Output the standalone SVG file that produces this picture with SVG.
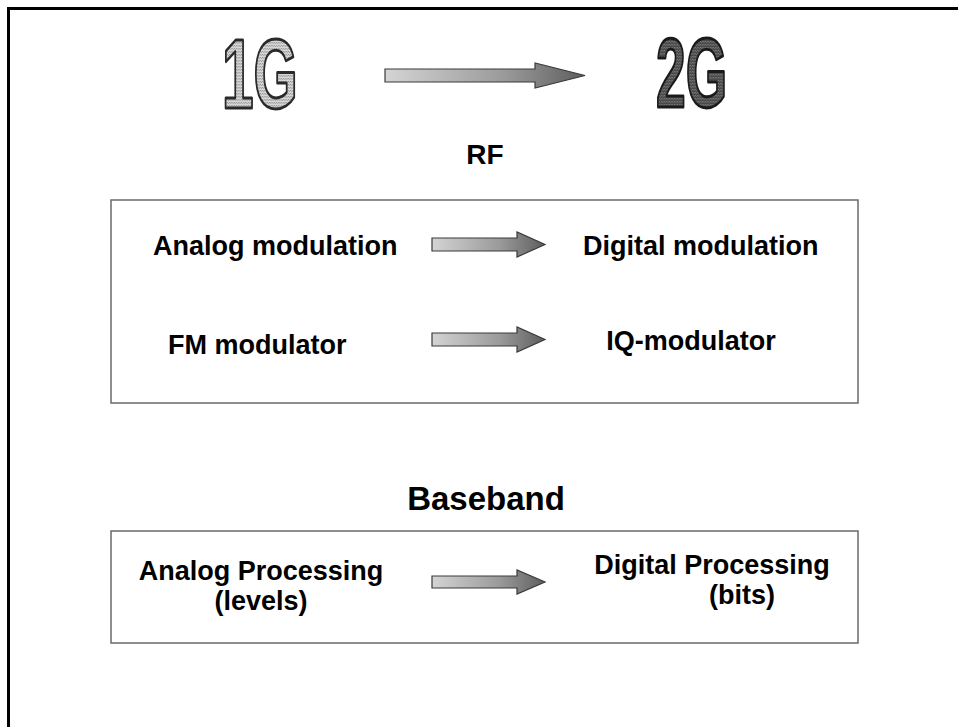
<svg xmlns="http://www.w3.org/2000/svg" width="958" height="727" viewBox="0 0 958 727">
  <defs>
    <linearGradient id="shade" x1="0" y1="0" x2="1" y2="0">
      <stop offset="0" stop-color="#d4d4d4"/>
      <stop offset="0.6" stop-color="#9a9a9a"/>
      <stop offset="1" stop-color="#5e5e5e"/>
    </linearGradient>
    <pattern id="dots" width="3" height="3" patternUnits="userSpaceOnUse">
      <rect width="3" height="3" fill="#d6d6d6"/>
      <rect width="1" height="1" fill="#6e6e6e"/>
      <rect x="2" y="1" width="1" height="1" fill="#8a8a8a"/>
    </pattern>
    <pattern id="darkdots" width="3" height="3" patternUnits="userSpaceOnUse">
      <rect width="3" height="3" fill="#4a4a4a"/>
      <rect width="1" height="1" fill="#9a9a9a"/>
      <rect x="2" y="1" width="1" height="1" fill="#777"/>
    </pattern>
  </defs>
  <style>
    .lbl { font-family: "Liberation Sans", Arial, sans-serif; font-weight: bold; fill: #000; font-size: 27px; }
    .head { font-family: "Liberation Sans", Arial, sans-serif; font-weight: bold; fill: #000; text-anchor: middle; }
    .gen { font-family: "Liberation Sans", Arial, sans-serif; font-weight: bold; font-size: 98px; stroke-linejoin: round; }
    .box { fill: #fff; stroke: #6a6a6a; stroke-width: 1.5; }
    .arrow { fill: url(#shade); stroke: #3a3a3a; stroke-width: 1.2; stroke-linejoin: miter; }
  </style>

  <rect width="958" height="727" fill="#fff"/>

  <!-- page frame (open at right and bottom) -->
  <path d="M8.5,727 V8.5 H958" fill="none" stroke="#000" stroke-width="3"/>

  <!-- generation titles -->
  <g id="gen1">
    <text class="gen" transform="translate(222,108) scale(0.58,1)" fill="url(#dots)" stroke="#2a2a2a" stroke-width="3">1G</text>
  </g>
  <g id="gen2">
    <text class="gen" transform="translate(656,107) scale(0.545,1)" fill="url(#darkdots)" stroke="#1a1a1a" stroke-width="3">2G</text>
  </g>

  <!-- section headings -->
  <g id="rf-title">
    <text class="head" x="485" y="164" font-size="28">RF</text>
  </g>
  <g id="baseband-title">
    <text class="head" x="486" y="510" font-size="33">Baseband</text>
  </g>

  <!-- RF box -->
  <g id="rf-box">
    <rect class="box" x="111" y="200" width="747" height="203"/>
  </g>
  <g id="analog-mod">
    <text class="lbl" x="153" y="255">Analog modulation</text>
  </g>
  <g id="digital-mod">
    <text class="lbl" x="583" y="255">Digital modulation</text>
  </g>
  <g id="fm-mod">
    <text class="lbl" x="168" y="354">FM modulator</text>
  </g>
  <g id="iq-mod">
    <text class="lbl" x="691" y="350" text-anchor="middle">IQ-modulator</text>
  </g>

  <!-- Baseband box -->
  <g id="baseband-box">
    <rect class="box" x="111" y="531" width="747" height="112"/>
  </g>
  <g id="analog-proc">
    <text class="lbl" x="261" y="580" text-anchor="middle">Analog Processing</text>
    <text class="lbl" x="261" y="610" text-anchor="middle">(levels)</text>
  </g>
  <g id="digital-proc">
    <text class="lbl" x="712" y="574" text-anchor="middle">Digital Processing</text>
    <text class="lbl" x="742" y="604" text-anchor="middle">(bits)</text>
  </g>

  <!-- connectors -->
  <g id="connectors">
    <path class="arrow" d="M385,69 H535 V63 L585,75.5 L535,88 V82 H385 Z"/>
    <path class="arrow" d="M432,238 H517 V232 L545,244.5 L517,257 V251 H432 Z"/>
    <path class="arrow" d="M432,333 H517 V327 L545,339.5 L517,352 V346 H432 Z"/>
    <path class="arrow" d="M432,576 H517 V570 L545,582 L517,594 V588 H432 Z"/>
  </g>
</svg>
